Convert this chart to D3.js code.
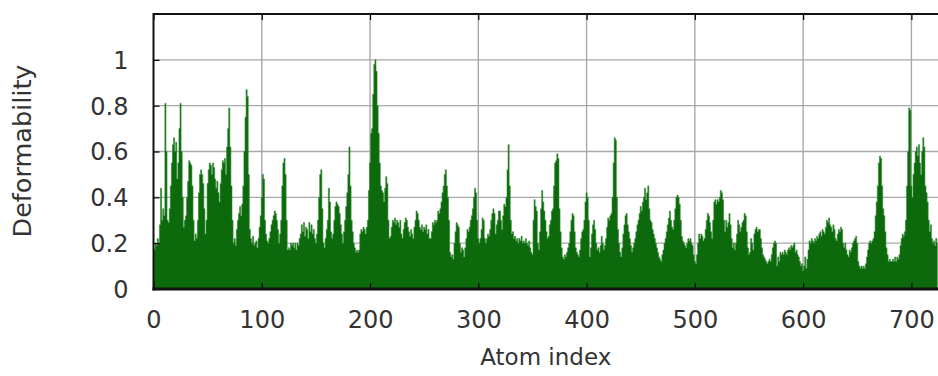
<!DOCTYPE html>
<html>
<head>
<meta charset="utf-8">
<script src="https://cdn.jsdelivr.net/npm/d3@7"></script>
<style>
  html, body { margin: 0; padding: 0; background: #fff; }
  svg { display: block; }
  text { font-family: "DejaVu Sans", Verdana, sans-serif; fill: #333; }
</style>
</head>
<body>
<svg id="chart" width="938" height="376"></svg>
<script>
// ---- data ----
const xTickValues = [0, 100, 200, 300, 400, 500, 600, 700];
const yTickValues = [0, 0.2, 0.4, 0.6, 0.8, 1];
const yTickLabels = ["0", "0.2", "0.4", "0.6", "0.8", "1"];
const xTitle = "Atom index";
const yTitle = "Deformability";
// deformability per atom (index 0..724)
const deformability = [
  0.18,0.17,0.2,0.19,0.22,0.2,0.28,0.44,0.3,0.35,
  0.32,0.81,0.6,0.3,0.29,0.35,0.45,0.55,0.63,0.66,
  0.6,0.64,0.48,0.55,0.7,0.81,0.6,0.4,0.27,0.3,
  0.32,0.4,0.47,0.56,0.55,0.54,0.45,0.3,0.21,0.24,
  0.22,0.3,0.42,0.5,0.52,0.5,0.46,0.35,0.24,0.3,
  0.46,0.52,0.55,0.54,0.5,0.55,0.53,0.48,0.44,0.47,
  0.42,0.38,0.46,0.52,0.56,0.55,0.57,0.5,0.62,0.7,
  0.79,0.62,0.45,0.3,0.2,0.22,0.19,0.26,0.3,0.33,
  0.36,0.32,0.37,0.45,0.6,0.75,0.87,0.84,0.5,0.26,
  0.22,0.2,0.23,0.19,0.2,0.21,0.18,0.22,0.27,0.32,
  0.4,0.5,0.48,0.3,0.24,0.21,0.2,0.22,0.25,0.28,
  0.3,0.32,0.34,0.33,0.3,0.26,0.2,0.24,0.3,0.45,
  0.55,0.57,0.5,0.3,0.17,0.18,0.17,0.2,0.19,0.2,
  0.18,0.2,0.17,0.2,0.19,0.22,0.24,0.28,0.25,0.29,
  0.23,0.27,0.26,0.22,0.29,0.25,0.28,0.24,0.26,0.22,
  0.2,0.24,0.3,0.4,0.5,0.52,0.35,0.2,0.18,0.22,
  0.26,0.3,0.44,0.38,0.25,0.22,0.24,0.3,0.36,0.38,
  0.37,0.36,0.33,0.28,0.24,0.2,0.25,0.3,0.36,0.42,
  0.5,0.62,0.45,0.3,0.25,0.2,0.18,0.16,0.17,0.16,
  0.17,0.24,0.26,0.25,0.27,0.26,0.24,0.27,0.3,0.43,
  0.55,0.68,0.7,0.85,0.98,1.0,0.95,0.8,0.68,0.55,
  0.45,0.43,0.42,0.38,0.44,0.49,0.46,0.3,0.22,0.23,
  0.27,0.3,0.29,0.31,0.28,0.3,0.29,0.27,0.3,0.24,
  0.22,0.26,0.29,0.31,0.3,0.27,0.25,0.23,0.26,0.24,
  0.22,0.27,0.3,0.34,0.33,0.3,0.27,0.26,0.28,0.25,
  0.27,0.26,0.28,0.24,0.26,0.22,0.22,0.25,0.29,0.28,
  0.3,0.29,0.3,0.34,0.33,0.35,0.38,0.42,0.45,0.5,
  0.52,0.45,0.4,0.3,0.16,0.14,0.15,0.13,0.2,0.25,
  0.29,0.28,0.27,0.2,0.16,0.18,0.17,0.14,0.18,0.22,
  0.26,0.25,0.27,0.3,0.32,0.35,0.4,0.44,0.42,0.3,
  0.22,0.2,0.22,0.26,0.31,0.3,0.22,0.2,0.22,0.24,
  0.23,0.26,0.3,0.33,0.35,0.33,0.24,0.28,0.3,0.34,
  0.34,0.3,0.26,0.32,0.37,0.36,0.4,0.52,0.63,0.45,
  0.3,0.24,0.25,0.22,0.23,0.21,0.22,0.2,0.22,0.21,
  0.23,0.2,0.21,0.2,0.22,0.2,0.19,0.21,0.18,0.16,
  0.15,0.3,0.39,0.36,0.34,0.2,0.17,0.25,0.35,0.43,
  0.38,0.34,0.3,0.25,0.22,0.23,0.28,0.3,0.34,0.35,
  0.45,0.55,0.56,0.59,0.57,0.35,0.25,0.18,0.14,0.13,
  0.15,0.14,0.16,0.18,0.2,0.25,0.3,0.33,0.32,0.25,
  0.18,0.16,0.15,0.14,0.17,0.22,0.25,0.26,0.3,0.38,
  0.42,0.4,0.3,0.14,0.18,0.24,0.28,0.3,0.26,0.2,
  0.17,0.18,0.16,0.19,0.23,0.2,0.17,0.19,0.22,0.27,
  0.31,0.3,0.32,0.33,0.4,0.55,0.66,0.65,0.4,0.26,
  0.2,0.16,0.14,0.18,0.24,0.28,0.32,0.33,0.28,0.25,
  0.22,0.19,0.16,0.18,0.2,0.22,0.25,0.28,0.3,0.33,
  0.36,0.34,0.38,0.4,0.44,0.39,0.42,0.45,0.35,0.3,
  0.29,0.26,0.24,0.22,0.2,0.18,0.16,0.14,0.13,0.12,
  0.15,0.17,0.2,0.22,0.25,0.28,0.31,0.34,0.3,0.27,
  0.26,0.3,0.35,0.4,0.41,0.4,0.37,0.3,0.23,0.21,
  0.2,0.19,0.18,0.2,0.22,0.21,0.22,0.2,0.19,0.15,
  0.12,0.11,0.15,0.2,0.24,0.22,0.24,0.23,0.21,0.22,
  0.26,0.3,0.33,0.32,0.29,0.25,0.22,0.3,0.38,0.39,
  0.37,0.39,0.38,0.4,0.43,0.42,0.39,0.3,0.25,0.3,
  0.27,0.29,0.33,0.28,0.22,0.18,0.2,0.17,0.2,0.24,
  0.3,0.28,0.25,0.27,0.29,0.3,0.33,0.32,0.25,0.18,
  0.15,0.16,0.22,0.2,0.17,0.24,0.26,0.27,0.25,0.26,
  0.26,0.22,0.18,0.15,0.14,0.13,0.12,0.11,0.12,0.13,
  0.12,0.15,0.18,0.2,0.21,0.2,0.1,0.14,0.12,0.16,
  0.15,0.16,0.15,0.17,0.16,0.15,0.17,0.18,0.17,0.19,
  0.18,0.19,0.2,0.16,0.17,0.15,0.14,0.12,0.1,0.11,
  0.08,0.1,0.14,0.09,0.13,0.17,0.21,0.2,0.22,0.21,
  0.2,0.22,0.21,0.23,0.22,0.24,0.25,0.23,0.26,0.25,
  0.24,0.27,0.3,0.29,0.31,0.28,0.27,0.25,0.28,0.26,
  0.22,0.21,0.24,0.26,0.25,0.27,0.26,0.2,0.18,0.2,
  0.17,0.15,0.14,0.17,0.16,0.18,0.2,0.21,0.22,0.23,
  0.2,0.12,0.1,0.09,0.1,0.09,0.1,0.09,0.11,0.14,
  0.17,0.2,0.21,0.2,0.21,0.22,0.25,0.32,0.38,0.45,
  0.55,0.58,0.57,0.45,0.35,0.32,0.25,0.18,0.15,0.12,
  0.13,0.12,0.12,0.13,0.12,0.14,0.12,0.14,0.13,0.15,
  0.19,0.22,0.24,0.23,0.25,0.3,0.45,0.6,0.79,0.78,
  0.45,0.4,0.5,0.55,0.6,0.62,0.58,0.63,0.55,0.5,
  0.6,0.66,0.62,0.45,0.42,0.38,0.3,0.25,0.28,0.22,
  0.2,0.21,0.19,0.22,0.2
];

// ---- layout ----
const svg = d3.select("#chart");
const W = 938, H = 376;
const mLeft = 153.5, mTop = 14, mBottom = 289;
const pxPerAtom = 1.0827;
const xMax = 760;

const x = d3.scaleLinear().domain([0, xMax]).range([mLeft, mLeft + xMax * pxPerAtom]);
const y = d3.scaleLinear().domain([0, 1.2]).range([mBottom, mTop]);

// grid
const grid = svg.append("g").attr("stroke", "#a8a8a8").attr("stroke-width", 1.4);
grid.selectAll("line.h").data(yTickValues.filter(d => d > 0)).join("line")
  .attr("x1", mLeft).attr("x2", W).attr("y1", d => y(d)).attr("y2", d => y(d));
grid.selectAll("line.v").data(xTickValues.filter(d => d > 0)).join("line")
  .attr("y1", mTop).attr("y2", mBottom).attr("x1", d => x(d)).attr("x2", d => x(d));

// data area (impulse-like, step per atom)
const pts = deformability.map((v, i) => ({ i, v }));
const area = d3.area()
  .curve(d3.curveStep)
  .x(d => x(d.i))
  .y0(y(0))
  .y1(d => y(d.v));
svg.append("path")
  .datum(pts)
  .attr("d", area)
  .attr("fill", "#0c6a0c")
  .attr("stroke", "#2f8a2f")
  .attr("stroke-width", 0.6)
  .attr("stroke-linejoin", "miter");

// axes (borders with ticks)
const yAxisG = svg.append("g").attr("transform", `translate(${mLeft},0)`)
  .call(d3.axisLeft(y).tickValues(yTickValues).tickSize(-6).tickFormat((d, i) => yTickLabels[i]).tickPadding(25));
yAxisG.select(".domain").remove();
yAxisG.selectAll(".tick line").attr("stroke", "#000").attr("stroke-width", 1.2);
yAxisG.selectAll(".tick text")
  .attr("font-size", 24).attr("font-family", "DejaVu Sans").attr("fill", "#333")
  .attr("x", -25).attr("dy", "0.35em");

const xAxisG = svg.append("g").attr("transform", `translate(0,${mBottom})`)
  .call(d3.axisBottom(x).tickValues(xTickValues).tickSize(-6).tickFormat(d3.format("d")).tickPadding(0));
xAxisG.select(".domain").remove();
xAxisG.selectAll(".tick line").attr("stroke", "#000").attr("stroke-width", 1.2);
xAxisG.selectAll(".tick text")
  .attr("font-size", 24).attr("font-family", "DejaVu Sans").attr("fill", "#333")
  .attr("y", 39).attr("dy", 0);

const xTopG = svg.append("g").attr("transform", `translate(0,${mTop})`)
  .call(d3.axisTop(x).tickValues(xTickValues).tickSize(-6).tickFormat(""));
xTopG.select(".domain").remove();
xTopG.selectAll(".tick line").attr("stroke", "#000").attr("stroke-width", 1.2);

// borders
svg.append("line").attr("x1", mLeft).attr("x2", W).attr("y1", mTop).attr("y2", mTop)
  .attr("stroke", "#111").attr("stroke-width", 2);
svg.append("line").attr("x1", mLeft).attr("x2", mLeft).attr("y1", mTop - 1).attr("y2", mBottom + 1.5)
  .attr("stroke", "#111").attr("stroke-width", 2);
svg.append("line").attr("x1", mLeft - 1).attr("x2", W).attr("y1", mBottom).attr("y2", mBottom)
  .attr("stroke", "#111").attr("stroke-width", 3);

// titles
svg.append("text")
  .attr("x", (mLeft + W) / 2).attr("y", 365)
  .attr("text-anchor", "middle").attr("font-size", 23)
  .text(xTitle);
svg.append("text")
  .attr("transform", `translate(31,151) rotate(-90)`)
  .attr("text-anchor", "middle").attr("font-size", 25.5)
  .text(yTitle);
</script>
</body>
</html>
